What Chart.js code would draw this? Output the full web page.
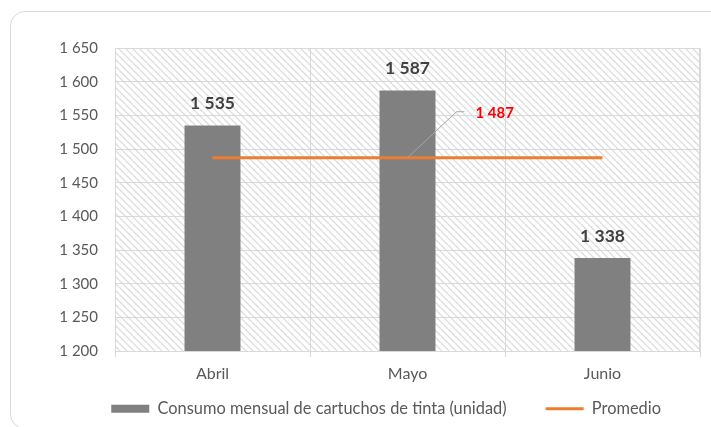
<!DOCTYPE html>
<html>
<head>
<meta charset="utf-8">
<script src="https://cdn.jsdelivr.net/npm/chart.js@4.4.1/dist/chart.umd.min.js"></script>
<style>
  html, body { margin: 0; padding: 0; background: #fff; }
  #wrap { position: relative; width: 711px; height: 427px; overflow: hidden; }
  #card { position: absolute; left: 10px; top: 11px; width: 740px; height: 418px;
          border: 1px solid #d9d9d9; border-radius: 15px; box-sizing: border-box; }
  #c { position: absolute; left: 0; top: 0; }
</style>
</head>
<body>
<div id="wrap">
  <div id="card"></div>
  <canvas id="c" width="711" height="427"></canvas>
</div>
<script>
const categories = ['Abril', 'Mayo', 'Junio'];
const consumo = [1535, 1587, 1338];
const promedio = [1487, 1487, 1487];
const promedioLabel = '1 487';
const yMin = 1200, yMax = 1650, yStep = 50;
const seriesNames = ['Consumo mensual de cartuchos de tinta (unidad)', 'Promedio'];

const FONT = 'Lato, "Open Sans", sans-serif';
const LEG_SIZE = 16.4, LEG_PAD = 39;
const fmt = v => String(v).replace(/\B(?=(\d{3})+(?!\d))/g, ' ');

function makeHatch(ctx) {
  const s = 7;
  const c = document.createElement('canvas');
  c.width = s; c.height = s;
  const g = c.getContext('2d');
  g.fillStyle = '#ffffff';
  g.fillRect(0, 0, s, s);
  g.strokeStyle = '#dcdcdc';
  g.lineWidth = 1.3;
  g.beginPath();
  for (const k of [-s, 0, s]) { g.moveTo(k, 0); g.lineTo(k + s, s); }
  g.stroke();
  return ctx.createPattern(c, 'repeat');
}

const hatchPlugin = {
  id: 'hatch',
  beforeDraw(chart) {
    const {ctx, chartArea: a} = chart;
    ctx.save();
    ctx.fillStyle = makeHatch(ctx);
    ctx.fillRect(a.left, a.top, a.right - a.left, a.bottom - a.top);
    ctx.restore();
  },
  beforeDatasetsDraw(chart) {
    const {ctx, chartArea: a} = chart;
    ctx.save();
    ctx.strokeStyle = '#d9d9d9';
    ctx.lineWidth = 1;
    ctx.beginPath();
    ctx.moveTo(a.right - 0.5, a.top);
    ctx.lineTo(a.right - 0.5, a.bottom);
    ctx.stroke();
    ctx.restore();
  }
};

const labelPlugin = {
  id: 'labels',
  afterDatasetsDraw(chart) {
    const {ctx} = chart;
    ctx.save();
    const bars = chart.getDatasetMeta(0).data;
    ctx.fillStyle = '#404040';
    ctx.font = 'bold 17.5px ' + FONT;
    ctx.textAlign = 'center';
    ctx.textBaseline = 'middle';
    bars.forEach((b, i) => {
      ctx.fillText(fmt(consumo[i]), b.x, b.y - 22);
    });
    const p = chart.getDatasetMeta(1).data[1];
    ctx.strokeStyle = '#a6a6a6';
    ctx.lineWidth = 1;
    ctx.beginPath();
    ctx.moveTo(p.x, p.y);
    ctx.lineTo(p.x + 49, p.y - 46);
    ctx.lineTo(p.x + 57, p.y - 46);
    ctx.stroke();
    ctx.fillStyle = '#ff0000';
    ctx.font = 'bold 15px ' + FONT;
    ctx.textAlign = 'left';
    ctx.fillText(promedioLabel, p.x + 68, p.y - 45);
    ctx.restore();
  }
};

const legendHeight = LEG_SIZE + LEG_PAD + 10;

new Chart(document.getElementById('c'), {
  data: {
    labels: categories,
    datasets: [
      { type: 'bar', label: seriesNames[0], data: consumo, backgroundColor: '#808080',
        borderWidth: 0, barPercentage: 0.287, categoryPercentage: 1, order: 1 },
      { type: 'line', label: seriesNames[1], data: promedio, borderColor: '#ED7D31',
        backgroundColor: '#ED7D31', borderWidth: 3, pointRadius: 0, fill: false, order: 0 }
    ]
  },
  options: {
    responsive: false,
    animation: false,
    layout: { padding: { top: 48, right: 11, left: 0, bottom: 0 } },
    scales: {
      x: {
        offset: true,
        grid: { offset: true, color: '#d9d9d9', drawTicks: true, tickLength: 6 },
        border: { color: '#d9d9d9' },
        ticks: { color: '#595959', font: { family: FONT, size: 16 }, mirror: true, padding: -32.6 },
        afterFit(s) { s.height = 427 - legendHeight - 351; }
      },
      y: {
        min: yMin, max: yMax,
        grid: { color: '#d9d9d9', drawTicks: false },
        border: { color: '#d9d9d9' },
        ticks: { stepSize: yStep, color: '#595959', font: { family: FONT, size: 15 }, padding: 17,
                 callback: v => fmt(v) },
        afterFit(s) { s.width = 115; }
      }
    },
    plugins: {
      tooltip: { enabled: false },
      legend: {
        position: 'bottom',
        align: 'end',
        labels: {
          color: '#595959',
          font: { family: FONT, size: LEG_SIZE },
          usePointStyle: true,
          pointStyleWidth: 38,
          boxHeight: 8,
          padding: LEG_PAD,
          sort: (a, b) => a.datasetIndex - b.datasetIndex,
          generateLabels(chart) {
            const items = Chart.defaults.plugins.legend.labels.generateLabels(chart);
            items.forEach(it => {
              if (it.datasetIndex === 0) {
                it.pointStyle = 'rect'; it.lineWidth = 0; it.fillStyle = '#808080'; it.strokeStyle = '#808080';
              } else {
                it.pointStyle = 'line'; it.lineWidth = 3; it.strokeStyle = '#ED7D31';
              }
            });
            return items;
          }
        }
      }
    }
  },
  plugins: [hatchPlugin, labelPlugin]
});
</script>
</body>
</html>
